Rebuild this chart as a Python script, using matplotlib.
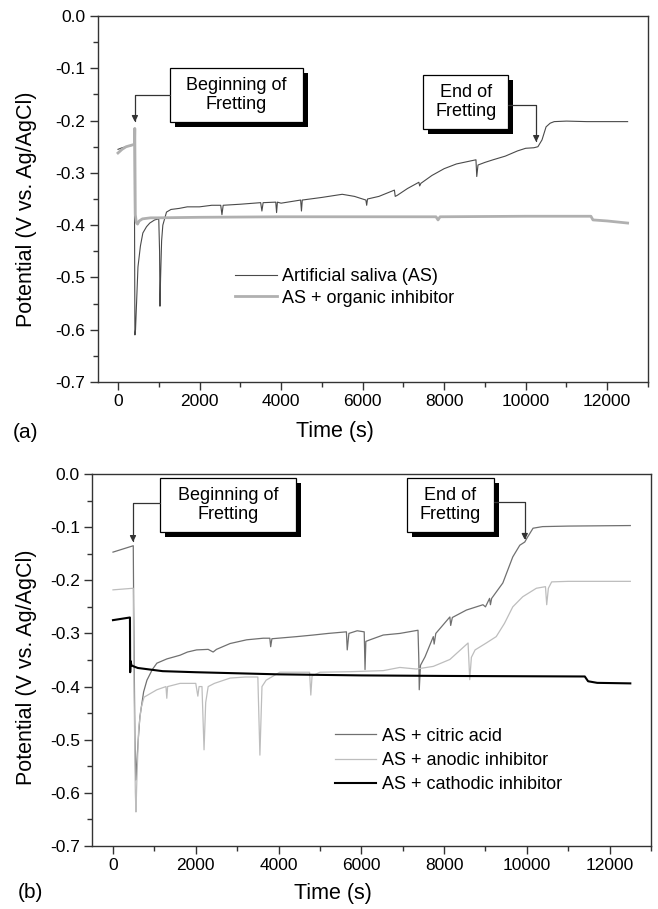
import matplotlib
matplotlib.use("Agg")
import matplotlib.pyplot as plt
from matplotlib.patches import Rectangle
from matplotlib.ticker import MultipleLocator, FormatStrFormatter
import matplotlib.patheffects as pe

plt.rcParams['font.family'] = ['Liberation Sans', 'DejaVu Sans']
plt.rcParams['axes.unicode_minus'] = False

# ---------------- Data: panel (a) ----------------
t_as = [0, 100, 200, 300, 400, 415, 430, 450, 490, 550, 610, 700, 780, 900, 1000, 1020,
        1030, 1045, 1070, 1100, 1190, 1300, 1500, 1700, 2000, 2300, 2520, 2550, 2580,
        3000, 3500, 3530, 3560, 3870, 3890, 3910, 4000, 4480, 4500, 4520, 5000, 5500,
        5800, 6000, 6080, 6100, 6120, 6400, 6780, 6800, 6850, 7100, 7380, 7400, 7430,
        7700, 8000, 8300, 8600, 8780, 8800, 8830, 9000, 9200, 9500, 9800, 10000, 10200,
        10300, 10400, 10500, 10600, 10700, 11000, 11500, 12000, 12500]
v_as = [-0.255, -0.252, -0.250, -0.248, -0.247, -0.610, -0.600, -0.560, -0.480, -0.440,
        -0.415, -0.403, -0.396, -0.390, -0.388, -0.450, -0.555, -0.500, -0.430, -0.400,
        -0.375, -0.370, -0.368, -0.365, -0.365, -0.362, -0.362, -0.380, -0.362, -0.360,
        -0.357, -0.373, -0.357, -0.356, -0.376, -0.356, -0.358, -0.352, -0.373, -0.352,
        -0.347, -0.341, -0.345, -0.350, -0.352, -0.362, -0.350, -0.345, -0.333, -0.345,
        -0.343, -0.330, -0.318, -0.325, -0.320, -0.305, -0.292, -0.283, -0.278, -0.275,
        -0.307, -0.285, -0.280, -0.275, -0.268, -0.258, -0.253, -0.252, -0.250, -0.237,
        -0.212, -0.205, -0.202, -0.201, -0.202, -0.202, -0.202]

t_org = [0, 100, 200, 380, 405, 412, 425, 450, 480, 520, 600, 800, 1000, 2000, 4000,
         6000, 7800, 7850, 7900, 10000, 11600, 11650, 12000, 12500]
v_org = [-0.262, -0.255, -0.250, -0.246, -0.246, -0.215, -0.380, -0.395, -0.398, -0.392,
         -0.388, -0.386, -0.386, -0.385, -0.384, -0.384, -0.384, -0.390, -0.384, -0.383,
         -0.383, -0.390, -0.392, -0.396]

# ---------------- Data: panel (b) ----------------
t_cit = [0, 490, 500, 530, 550, 570, 610, 650, 740, 820, 950, 1060, 1300, 1620, 1800,
         2020, 2300, 2420, 2500, 2830, 3230, 3630, 3790, 3810, 3840, 4440, 4840, 5200,
         5640, 5660, 5700, 5900, 6070, 6090, 6110, 6210, 6530, 6930, 7370, 7390, 7400,
         7430, 7540, 7740, 7760, 7800, 8140, 8160, 8200, 8540, 8940, 9000, 9100, 9120,
         9150, 9420, 9660, 9830, 9950, 10000, 10150, 10380, 11000, 12500]
v_cit = [-0.147, -0.135, -0.250, -0.500, -0.576, -0.550, -0.500, -0.457, -0.410, -0.388,
         -0.368, -0.356, -0.348, -0.341, -0.335, -0.331, -0.330, -0.335, -0.330, -0.319,
         -0.312, -0.309, -0.309, -0.325, -0.310, -0.306, -0.303, -0.300, -0.297, -0.331,
         -0.300, -0.295, -0.297, -0.368, -0.315, -0.312, -0.303, -0.300, -0.294, -0.350,
         -0.406, -0.360, -0.344, -0.306, -0.320, -0.300, -0.269, -0.285, -0.270, -0.256,
         -0.246, -0.250, -0.234, -0.246, -0.234, -0.205, -0.156, -0.134, -0.128, -0.121,
         -0.102, -0.099, -0.098, -0.097]

t_ano = [0, 490, 500, 540, 555, 575, 620, 680, 750, 1060, 1280, 1300, 1320, 1620, 2000,
         2050, 2080, 2150, 2200, 2240, 2300, 2450, 2830, 3200, 3500, 3550, 3600, 3700,
         4030, 4500, 4750, 4780, 4810, 5000, 5725, 6530, 6930, 7330, 7740, 8140, 8580,
         8620, 8660, 8750, 9020, 9260, 9460, 9660, 9900, 10230, 10450, 10480, 10520,
         10600, 11000, 12500]
v_ano = [-0.218, -0.215, -0.350, -0.600, -0.636, -0.580, -0.480, -0.440, -0.420, -0.406,
         -0.400, -0.422, -0.400, -0.394, -0.394, -0.418, -0.400, -0.400, -0.519, -0.430,
         -0.400, -0.394, -0.384, -0.382, -0.382, -0.529, -0.400, -0.388, -0.373, -0.373,
         -0.373, -0.416, -0.380, -0.373, -0.372, -0.370, -0.364, -0.367, -0.362, -0.349,
         -0.318, -0.387, -0.345, -0.331, -0.318, -0.306, -0.281, -0.250, -0.231, -0.215,
         -0.212, -0.246, -0.215, -0.203, -0.202, -0.202]

t_cat = [0, 410, 415, 425, 445, 500, 600, 800, 1200, 2000, 4000, 6000, 8000, 11400,
         11480, 11700, 12500]
v_cat = [-0.275, -0.270, -0.373, -0.352, -0.360, -0.362, -0.365, -0.367, -0.371, -0.373,
         -0.377, -0.379, -0.380, -0.381, -0.390, -0.393, -0.394]

xticks = [0, 2000, 4000, 6000, 8000, 10000, 12000]
yticks = [0.0, -0.1, -0.2, -0.3, -0.4, -0.5, -0.6, -0.7]

fig = plt.figure(figsize=(6.58, 9.09), dpi=100)
ax1 = fig.add_axes([97.6 / 658, 527 / 909, 550.4 / 658, 366 / 909])
ax2 = fig.add_axes([92.3 / 658, 63 / 909, 558.7 / 658, 372 / 909])


def style(ax):
    ax.set_xlim(-500, 13000)
    ax.set_ylim(-0.7, 0.0)
    ax.set_xticks(xticks)
    ax.set_yticks(yticks)
    ax.xaxis.set_minor_locator(MultipleLocator(1000))
    ax.yaxis.set_minor_locator(MultipleLocator(0.05))
    ax.yaxis.set_major_formatter(FormatStrFormatter('%.1f'))
    ax.tick_params(which='both', direction='out', top=False, right=False,
                   labelsize=12.5, color='#333333', width=1.0, pad=3)
    ax.tick_params(which='major', length=6)
    ax.tick_params(which='minor', length=3.5)
    for s in ax.spines.values():
        s.set_linewidth(1.0)
        s.set_color('#333333')


def callout(ax, box, text, start, tip, angA):
    x0, x1, y0, y1 = box
    r = Rectangle((x0, y1), x1 - x0, y0 - y1, facecolor='white', edgecolor='black',
                  linewidth=0.9, zorder=5)
    r.set_path_effects([pe.SimplePatchShadow(offset=(3.6, -3.6), shadow_rgbFace='black',
                                             alpha=1.0), pe.Normal()])
    ax.add_patch(r)
    ax.text((x0 + x1) / 2, (y0 + y1) / 2, text, ha='center', va='center', fontsize=13,
            linespacing=1.15, zorder=6)
    ax.annotate('', xy=tip, xytext=start, zorder=6,
                arrowprops=dict(arrowstyle='-|>', color='#333333', lw=0.9,
                                shrinkA=0, shrinkB=0, mutation_scale=9,
                                connectionstyle='angle,angleA=%d,angleB=90,rad=0' % angA))


# Panel (a)
style(ax1)
l1, = ax1.plot(t_as, v_as, color='#4a4a4a', lw=0.8)
l2, = ax1.plot(t_org, v_org, color='#b0b0b0', lw=2.0)
ax1.legend([l1, l2], ['Artificial saliva (AS)', 'AS + organic inhibitor'],
           frameon=False, fontsize=13, loc='upper left', bbox_to_anchor=(0.2496, 0.311),
           borderpad=0, borderaxespad=0, handlelength=2.3, handletextpad=0.3,
           labelspacing=0.25)
callout(ax1, (1276, 4540, -0.0994, -0.2027), 'Beginning of\nFretting',
        (1276, -0.151), (415, -0.2027), 180)
callout(ax1, (7485, 9570, -0.113, -0.216), 'End of\nFretting',
        (9570, -0.170), (10257, -0.241), 0)

# Panel (b)
style(ax2)
m1, = ax2.plot(t_cit, v_cit, color='#707070', lw=0.9)
m2, = ax2.plot(t_ano, v_ano, color='#bdbdbd', lw=0.9)
m3, = ax2.plot(t_cat, v_cat, color='#000000', lw=1.5)
ax2.legend([m1, m2, m3], ['AS + citric acid', 'AS + anodic inhibitor', 'AS + cathodic inhibitor'],
           frameon=False, fontsize=13, loc='upper left', bbox_to_anchor=(0.434, 0.318),
           borderpad=0, borderaxespad=0, handlelength=2.3, handletextpad=0.3,
           labelspacing=0.4)
callout(ax2, (1135, 4420, -0.0075, -0.109), 'Beginning of\nFretting',
        (1135, -0.0546), (483, -0.128), 180)
callout(ax2, (7100, 9200, -0.0075, -0.109), 'End of\nFretting',
        (9200, -0.0527), (9950, -0.124), 0)

# Axis labels and panel letters
fig.text(335 / 658, 1 - 432 / 909, 'Time (s)', ha='center', va='center', fontsize=15.5)
fig.text(333 / 658, 1 - 893 / 909, 'Time (s)', ha='center', va='center', fontsize=15.5)
fig.text(27 / 658, 1 - 209 / 909, 'Potential (V vs. Ag/AgCl)', rotation=90,
         ha='center', va='center', fontsize=15.5)
fig.text(27 / 658, 1 - 667 / 909, 'Potential (V vs. Ag/AgCl)', rotation=90,
         ha='center', va='center', fontsize=15.5)
fig.text(25 / 658, 1 - 432 / 909, '(a)', ha='center', va='center', fontsize=15)
fig.text(30 / 658, 1 - 893 / 909, '(b)', ha='center', va='center', fontsize=15)

fig.savefig('out.png', dpi=100)
